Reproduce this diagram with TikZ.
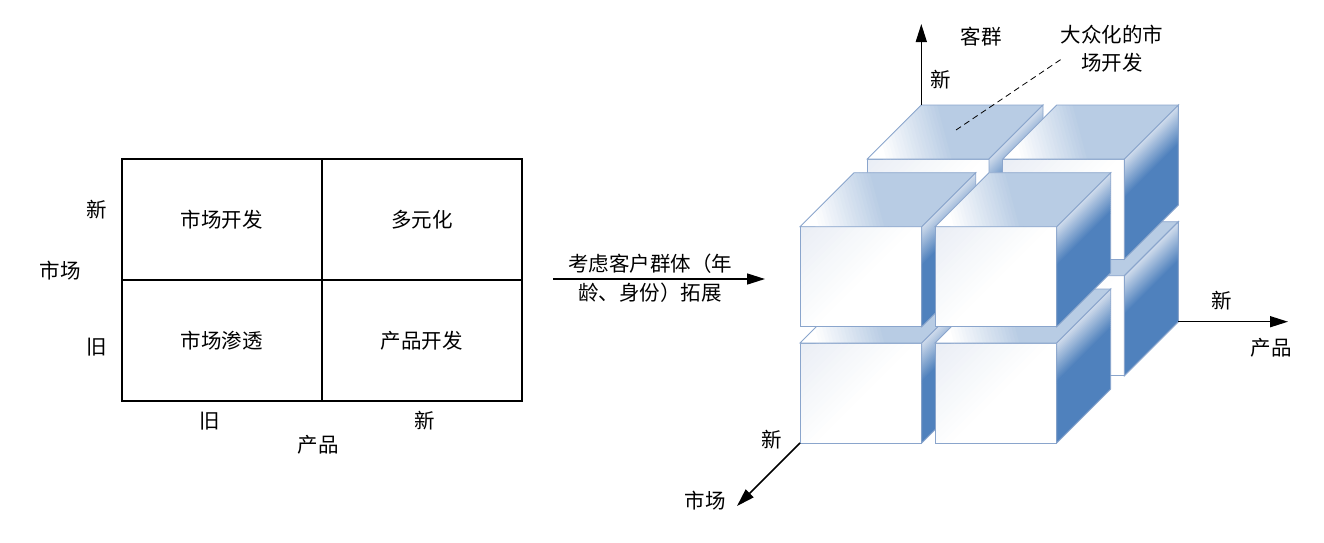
\documentclass[tikz,border=0pt]{standalone}
\usepackage{fontspec}
\newfontfamily\cjk{Noto Sans CJK SC}
\usetikzlibrary{arrows.meta,calc}
\definecolor{edgec}{HTML}{8AA5CC}
\definecolor{topblue}{HTML}{B8CCE4}
\definecolor{sideblue}{HTML}{4F81BD}
\definecolor{sidelight}{HTML}{D0DCEC}
\definecolor{frontgray}{HTML}{EAEEF5}
\tikzset{
  lbl/.style={inner sep=0pt, font=\cjk\fontsize{20.5}{28}\selectfont, align=center},
  cell/.style={draw=black, line width=1.5pt, minimum width=200pt, minimum height=121pt, inner sep=0pt, font=\cjk\fontsize{20.5}{28}\selectfont},
  cubeedge/.style={draw=edgec, line width=0.9pt, line join=miter},
  axis/.style={line width=1.5pt, -{Triangle[length=18pt,width=11pt]}},
  leader/.style={line width=0.8pt, dash pattern=on 6pt off 4pt}
}
\newcommand\drawcube[3]{%
  \begin{scope}[shift={(#2,#3)}]
    % front face: grey at top-left fading to white
    \begin{scope}
      \clip (0,0) rectangle (121.7,100);
      \fill[white] (0,0) rectangle (121.7,100);
      \foreach \i in {0,...,15}{%
        \pgfmathsetmacro\p{100-\i*6.25}%
        \fill[frontgray!\p!white, rotate=-45] (\i*5,-300) rectangle (\i*5+5.6,300);}
    \end{scope}
    \draw[cubeedge] (0,0) rectangle (121.7,100);
    % top face: white at front-left, blue elsewhere
    \begin{scope}
      \clip (0,0) -- (54,-54) -- (175.7,-54) -- (121.7,0) -- cycle;
      \fill[white] (-10,-60) rectangle (190,10);
      \fill[topblue, rotate=15] (85,-300) rectangle (400,300);
      \foreach \i in {0,...,19}{%
        \pgfmathsetmacro\p{\i*5.26}%
        \fill[topblue!\p!white, rotate=15] (15+\i*3.5,-300) rectangle (15+\i*3.5+4.1,300);}
    \end{scope}
    \draw[cubeedge] (0,0) -- (54,-54) -- (175.7,-54) -- (121.7,0) -- cycle;
    % side face: light along the top edge, dark blue below
    \fill[sideblue] (121.7,40) -- (175.7,-14) -- (175.7,46) -- (121.7,100) -- cycle;
    \foreach \i in {0,...,19}{%
      \pgfmathsetmacro\p{\i*5.26}%
      \fill[sideblue!\p!sidelight] (121.7,\i*2) -- (175.7,\i*2-54) -- (175.7,\i*2-51.4) -- (121.7,\i*2+2.6) -- cycle;}
    \draw[cubeedge] (121.7,0) -- (175.7,-54) -- (175.7,46) -- (121.7,100) -- cycle;
    \coordinate (#1-fbl) at (0,100);
    \coordinate (#1-tbl) at (54,-54);
    \coordinate (#1-sbr) at (175.7,46);
  \end{scope}}
\begin{document}
\begin{tikzpicture}[x=1pt,y=-1pt]
\useasboundingbox (0,0) rectangle (1324,542);
% left matrix
\node[cell, anchor=north west] (c11) at (121,158) {市场开发};
\node[cell, anchor=north west] (c12) at (321,158) {多元化};
\node[cell, anchor=north west] (c21) at (121,279) {市场渗透};
\node[cell, anchor=north west] (c22) at (321,279) {产品开发};
\node[lbl] (mnew) at (97,210) {新};
\node[lbl] (mkt) at (60,271) {市场};
\node[lbl] (mold) at (97,347) {旧};
\node[lbl] (pold) at (210,421) {旧};
\node[lbl] (pnew) at (425,421) {新};
\node[lbl] (prod) at (318,445) {产品};
% middle arrow
\coordinate (ma) at (553,279);
\coordinate (mb) at (765,279);
\draw[axis] (ma) -- (mb);
\node[lbl] (mt1) at (650,264) {考虑客户群体（年};
\node[lbl] (mt2) at (650,293) {龄、身份）拓展};
% cubes
\drawcube{bbl}{867.3}{275.7}
\drawcube{bbr}{1002.7}{275.7}
\drawcube{btl}{867.3}{159}
\drawcube{btr}{1002.7}{159}
\drawcube{fbl}{800}{343}
\drawcube{fbr}{935}{343}
\drawcube{ftl}{800}{226.7}
\drawcube{ftr}{935}{226.7}
% axes
\coordinate (ytip) at (921.3,24);
\coordinate (xtip) at (1288,321.7);
\coordinate (ztip) at (737,506);
\draw[axis] (btl-tbl) -- (ytip);
\draw[axis] (bbr-sbr) -- (xtip);
\draw[axis] (fbl-fbl) -- (ztip);
\node[lbl] (yname) at (981,37) {客群};
\node[lbl] (ynew) at (941,80) {新};
\node[lbl] (xnew) at (1222,301) {新};
\node[lbl] (xname) at (1271,348) {产品};
\node[lbl] (znew) at (772,440) {新};
\node[lbl] (zname) at (705,501) {市场};
% annotation
\node[lbl] (note) at (1112,49) {大众化的市\\场开发};
\coordinate (dA) at (956,130);
\coordinate (dB) at (1063,58);
\draw[leader] (dA) -- (dB);
\end{tikzpicture}
\end{document}
